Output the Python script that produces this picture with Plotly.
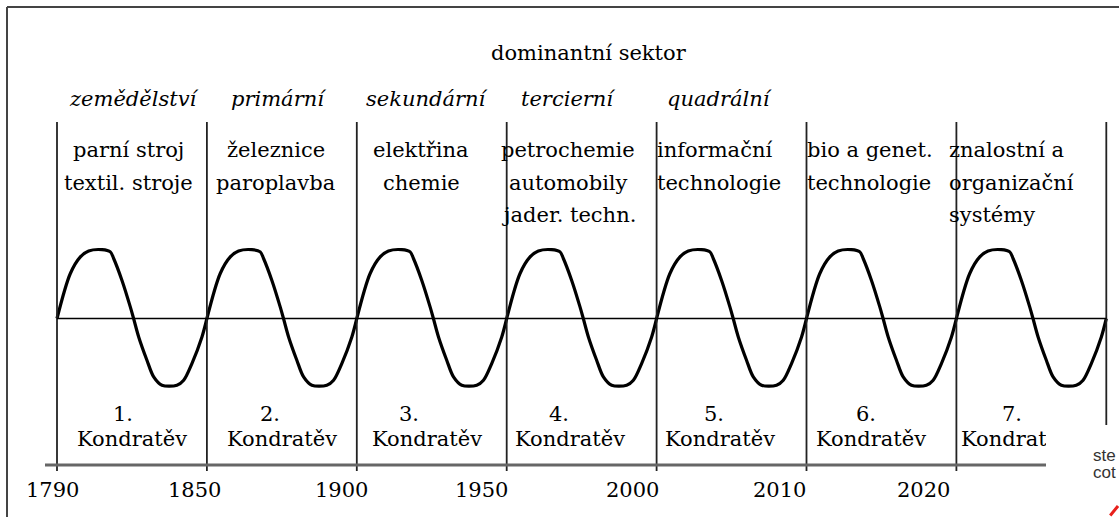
import plotly.graph_objects as go

# Kondratev waves - picture recreated with plotly

# wave boundaries (equally spaced on the picture, not to scale)
years = ["1790", "1850", "1900", "1950", "2000", "2010", "2020"]
wave_no = ["1.", "2.", "3.", "4.", "5.", "6.", "7."]
wave_name = "Kondratěv"
title = "dominantní sektor"
sectors = ["zemědělství", "primární", "sekundární", "tercierní", "quadrální"]
technologies = [
    ["parní stroj", "textil. stroje"],
    ["železnice", "paroplavba"],
    ["elektřina", "chemie"],
    ["petrochemie", "automobily", "jader. techn."],
    ["informační", "technologie"],
    ["bio a genet.", "technologie"],
    ["znalostní a", "organizační", "systémy"],
]
corner_lines = ["ste", "cot"]

# one drawn cycle of the wave: phase inside the wave / relative height
cycle_phase = [0, 0.089, 0.156, 0.211, 0.30, 0.356, 0.378, 0.433, 0.489, 0.511,
               0.545, 0.60, 0.645, 0.70, 0.80, 0.845, 0.90, 0.967, 1.0]
cycle_level = [0, 0.667, 0.913, 1.0, 1.02, 0.987, 0.889, 0.567, 0.172, 0,
               -0.273, -0.618, -0.865, -0.988, -0.988, -0.914, -0.667, -0.273, 0]

W, H = 1119, 517
SERIF = "DejaVu Serif"
FS = 21


def px(x):
    return x / W


def py(y):
    return 1 - y / H


# the same cycle repeated for every wave
wave_x, wave_y = [], []
for k in range(len(wave_no)):
    for ph, lv in zip(cycle_phase, cycle_level):
        wave_x.append(k + ph)
        wave_y.append(lv)

fig = go.Figure()
fig.add_trace(go.Scatter(
    x=wave_x, y=wave_y, mode="lines",
    line=dict(color="black", width=3.2, shape="spline", smoothing=0.9),
    hoverinfo="skip"
))

shapes = []
# frame
shapes.append(dict(type="line", xref="paper", yref="paper",
                   x0=px(7), x1=1.01, y0=py(7), y1=py(7),
                   line=dict(color="#444", width=2)))
shapes.append(dict(type="line", xref="paper", yref="paper",
                   x0=px(7), x1=px(7), y0=py(7), y1=-0.01,
                   line=dict(color="#444", width=2)))
# separators between the waves
n = len(wave_no)
for k in range(n + 1):
    shapes.append(dict(type="line", xref="x", yref="paper",
                       x0=k, x1=k, y0=py(122), y1=py(471),
                       line=dict(color="#222", width=1.8)))
# zero line of the wave
shapes.append(dict(type="line", xref="x", yref="y",
                   x0=0, x1=n, y0=0, y1=0,
                   line=dict(color="black", width=1.5)))
# time axis
shapes.append(dict(type="line", xref="paper", yref="paper",
                   x0=px(45), x1=px(1060), y0=py(465), y1=py(465),
                   line=dict(color="#666", width=3)))
# white patch in the bottom right corner (covers lines)
shapes.append(dict(type="rect", xref="paper", yref="paper",
                   x0=px(1046), x1=1.0, y0=py(425), y1=0.0,
                   fillcolor="white", line=dict(width=0), layer="above"))

ann = []


def label(x, y, text, xref="x", italic=False, anchor="center", **kw):
    ann.append(dict(
        x=x, y=y, xref=xref, yref="paper", text=text, showarrow=False,
        xanchor=anchor, yanchor="middle",
        font=dict(family=SERIF, size=FS, color="black",
                  style="italic" if italic else "normal"),
        **kw))


label(3.55, py(53), title)

sector_x = [0.51, 1.48, 2.47, 3.41, 4.42]
for s, x in zip(sectors, sector_x):
    label(x, py(99), s, italic=True)

tech_x = [0.48, 1.46, 2.43, 3.41, 3.99, 4.99, 5.94]
tech_anchor = ["center"] * 4 + ["left"] * 3
row_y = [150, 183, 215]
for lines, x, a in zip(technologies, tech_x, tech_anchor):
    for t, yy in zip(lines, row_y):
        label(x, py(yy), t, anchor=a)

kond_x = [0.5, 1.5, 2.47, 3.42, 4.42, 5.43, 6.4]
num_x = [0.44, 1.42, 2.35, 3.35, 4.38, 5.4, 6.37]
for no, x, xn in zip(wave_no, kond_x, num_x):
    label(xn, py(414), no)
    label(x, py(439), wave_name)

year_x = [-0.03, 0.92, 1.9, 2.83, 3.84, 4.82, 5.78]
for yr, x in zip(years, year_x):
    label(x, py(490), yr)

# same white patch again on top of the labels, then the cut text
ann.append(dict(x=px(1046), y=py(425), xref="paper", yref="paper",
                xanchor="left", yanchor="top", text=" ", showarrow=False,
                width=73, height=92, bgcolor="white", borderpad=0,
                borderwidth=0))
for t, yy in zip(corner_lines, [455, 472]):
    ann.append(dict(x=px(1092), y=py(yy), xref="paper", yref="paper",
                    xanchor="left", yanchor="middle", text=t,
                    showarrow=False, borderpad=0,
                    font=dict(family="Liberation Sans", size=17, color="#333")))
ann.append(dict(x=px(1120), y=py(506), xref="paper", yref="paper",
                ax=-11, ay=12, text="", showarrow=True, arrowhead=0,
                arrowwidth=3, arrowcolor="#e8201c"))

fig.update_layout(
    width=W, height=H,
    margin=dict(l=0, r=0, t=0, b=0),
    paper_bgcolor="white", plot_bgcolor="white",
    showlegend=False,
    xaxis=dict(range=[-57 / 149.9, (W - 57) / 149.9], visible=False, fixedrange=True),
    yaxis=dict(range=[(318.5 - H) / 67.5, 318.5 / 67.5], visible=False, fixedrange=True),
    shapes=shapes,
    annotations=ann,
)

# page margin off so the figure fills the window exactly
fig.write_html("out.html", config={"displayModeBar": False},
               post_script="document.body.style.margin='0px';"
                           "document.body.style.overflow='hidden';")
